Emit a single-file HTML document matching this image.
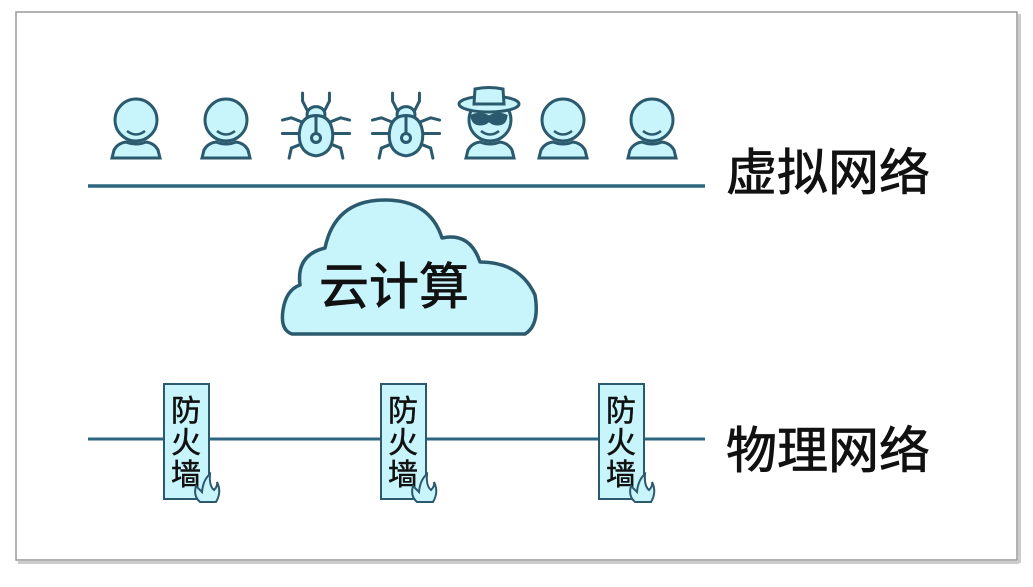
<!DOCTYPE html>
<html><head><meta charset="utf-8"><style>
body{margin:0;width:1033px;height:582px;background:#fff;overflow:hidden;font-family:"Liberation Sans","Noto Sans CJK SC",sans-serif}
</style></head><body>
<svg width="1033" height="582" viewBox="0 0 1033 582" xmlns="http://www.w3.org/2000/svg">
<defs>
<g id="user" fill="#c8f4fb" stroke="#2b5a6e" stroke-width="3">
<circle cx="0" cy="-16" r="21"/>
<path d="M-9 -5 Q0 2 9 -5" fill="none" stroke-width="2.5"/>
<path d="M-24 22 L-22 14 Q-18 7 -10 6 Q0 10 10 6 Q18 7 22 14 L24 22 Z"/>
</g>
<g id="bug" fill="#c8f4fb" stroke="#2b5a6e" stroke-width="2.7" stroke-linecap="round">
<path d="M-7 -15 L-12 -25 L-12 -32 M7 -15 L12 -25 L12 -32" fill="none"/>
<path d="M-12 -6 L-22 -10 L-30 -8 M12 -6 L22 -10 L30 -8 M-13 4 L-30 4 M13 4 L30 4 M-12 13 L-22 17 L-24 26 M12 13 L22 17 L24 26" fill="none"/>
<ellipse cx="0" cy="-13" rx="8" ry="7"/>
<path d="M0 -12 Q14 -12 15 5 Q15 22 0 24 Q-15 22 -15 5 Q-14 -12 0 -12 Z"/>
<line x1="0" y1="-12" x2="0" y2="4"/>
<circle cx="0" cy="8" r="4"/>
</g>
</defs>
<rect x="16" y="12" width="1001" height="548" fill="#fff" stroke="#999" stroke-width="1.5"/>
<rect x="18" y="561" width="1001" height="3" fill="#ccc"/>
<rect x="1018" y="14" width="3" height="549" fill="#ccc"/>

<use href="#user" x="136" y="136"/>
<use href="#user" x="226" y="136"/>
<use href="#bug" transform="translate(316,129) scale(1.12)"/>
<use href="#bug" transform="translate(406,129) scale(1.12)"/>
<use href="#user" x="490" y="136"/>
<use href="#user" x="563" y="136"/>
<use href="#user" x="652" y="136"/>
<g fill="#c8f4fb" stroke="#2b5a6e" stroke-width="3">
<ellipse cx="489" cy="104" rx="30" ry="8"/>
<path d="M474 104 L475 89 Q489 86 503 89 L504 104 Z"/>
<path d="M472 116 Q480 112 489 117 Q498 112 506 116 Q505 124 498 124 Q492 124 489 120 Q486 124 480 124 Q473 124 472 116 Z" fill="#2b5a6e"/>
</g>

<line x1="88" y1="186" x2="705" y2="186" stroke="#2c6680" stroke-width="3.5"/>
<g fill="#111" stroke="#111" stroke-width="0.8">
<text x="726" y="190" font-size="50" textLength="204" lengthAdjust="spacingAndGlyphs">虚拟网络</text>
<text x="726" y="468" font-size="50" textLength="204" lengthAdjust="spacingAndGlyphs">物理网络</text>
</g>

<path d="M292 334 Q280 330 283 310 Q286 290 300 285 Q296 255 325 248 Q335 200 385 200 Q430 200 442 238 Q470 232 480 262 Q520 262 535 295 Q540 325 525 334 Z" fill="#c8f4fb" stroke="#2b5a6e" stroke-width="3.5" stroke-linejoin="round"/>
<text x="394" y="304" font-size="50" text-anchor="middle" fill="#111" stroke="#111" stroke-width="0.8">云计算</text>

<line x1="88" y1="439" x2="705" y2="439" stroke="#2c6680" stroke-width="3"/>

<g id="fw">
<rect x="164" y="384" width="45" height="115" fill="#c8f4fb" stroke="#2b5a6e" stroke-width="2"/>
<g font-size="30" text-anchor="middle" fill="#111" stroke="#111" stroke-width="0.5">
<text x="186" y="421">防</text>
<text x="186" y="453">火</text>
<text x="186" y="485">墙</text>
</g>
<path d="M200 502 Q193 496 196 486 Q200 490 202 492 Q203 480 210 474 Q209 486 214 490 Q218 486 217 482 Q222 492 216 502 Z" fill="#c8f4fb" stroke="#2b5a6e" stroke-width="2"/>
</g>
<use href="#fw" x="217"/>
<use href="#fw" x="435"/>
</svg>
</body></html>
